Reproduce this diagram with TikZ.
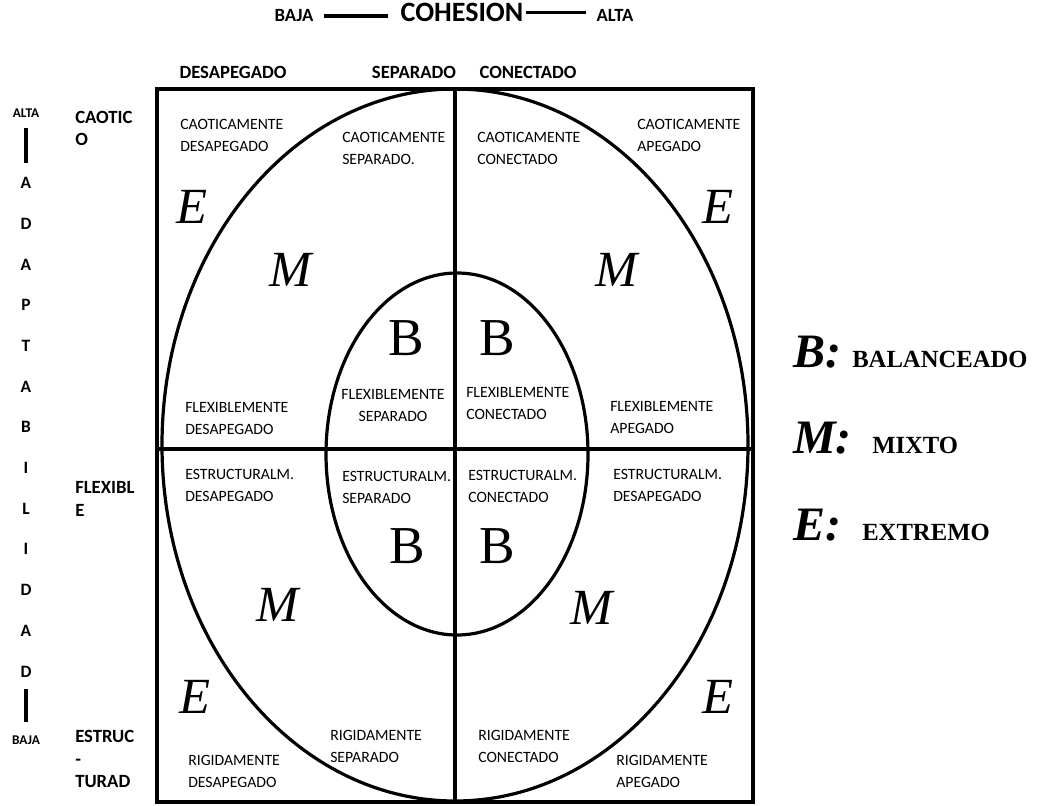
\documentclass[tikz,border=0pt]{standalone}
\usepackage{fontspec}
\setmainfont{Carlito}
\newfontfamily\romana{Liberation Serif}
\usetikzlibrary{positioning}

\begin{document}
\begin{tikzpicture}[x=0.75pt, y=-0.75pt,
    celda/.style={font=\fontsize{11.8}{16.5}\selectfont, align=left, inner sep=0pt, anchor=west},
    titulo/.style={font=\bfseries\fontsize{14}{17}\selectfont, inner sep=0pt},
    vert/.style={font=\bfseries\fontsize{13}{13}\selectfont, inner sep=0pt},
    letra/.style={font=\romana\itshape\fontsize{38}{38}\selectfont, inner sep=0pt},
    balance/.style={font=\romana\fontsize{40}{40}\selectfont, inner sep=0pt},
    clave/.style={font=\romana\bfseries\itshape\fontsize{36}{36}\selectfont, inner sep=0pt, anchor=base west},
    significado/.style={font=\romana\bfseries\fontsize{18.5}{20}\selectfont, inner sep=0pt, anchor=base west}]
    % 画布大小
    \useasboundingbox (0,0) rectangle (1053,806);

    % 标题 COHESION
    \node[font=\bfseries\fontsize{21}{21}\selectfont, inner sep=0pt, anchor=base] (cohesion) at (462,22) {COHESION};
    \node[titulo, anchor=base] (bajaC) at (294,22) {BAJA};
    \node[titulo, anchor=base] (altaC) at (615,22) {ALTA};
    \draw[line width=2.3pt, shorten <=7.5pt, shorten >=9pt] (bajaC.east) -- (bajaC.east -| cohesion.west);
    \draw[line width=2.3pt, shorten <=1.5pt, shorten >=7.5pt] (cohesion.east) -- (cohesion.east -| altaC.west);

    % 列标题
    \node[titulo] (desapegado) at (233,72) {DESAPEGADO};
    \node[titulo] (separado) at (414,72) {SEPARADO};
    \node[titulo] (conectado) at (528,72) {CONECTADO};

    % 行标题
    \node[titulo, align=left, anchor=west] (caotico) at (75,128.5) {CAOTIC\\O};
    \node[titulo, align=left, anchor=west] (flexible) at (75,499) {FLEXIBL\\E};
    \node[titulo, align=left, anchor=west] (estructurado) at (75,759) {ESTRUC\\-\\TURAD};

    % 竖排 ADAPTABILIDAD
    \node[font=\bfseries\fontsize{10}{10}\selectfont, inner sep=0pt] (alta) at (26,113) {ALTA};
    \node[font=\bfseries\fontsize{10}{10}\selectfont, inner sep=0pt] (baja) at (26,740) {BAJA};
    \foreach \l [count=\i] in {A,D,A,P,T,A,B,I,L,I,D,A,D}
        \node[vert] (v\i) at (26,{142.3+40.7*\i}) {\l};
    \draw[line width=3pt, shorten <=8pt, shorten >=10.5pt] (alta.south) -- (v1.north);
    \draw[line width=3pt, shorten <=9pt, shorten >=9.75pt] (v13.south) -- (baja.north);

    % 外框、椭圆和十字线
    \draw[line width=3.2pt] (157,89) rectangle (753,802);
    \draw[line width=2.4pt] (455,445) ellipse [x radius=293, y radius=356];
    \draw[line width=2.4pt] (457,454) ellipse [x radius=131, y radius=181];
    \draw[line width=2.4pt] (455,89) -- (455,802);
    \draw[line width=2.4pt] (157,449) -- (753,449);

    % 第一行
    \node[celda] (c1) at (180,135) {CAOTICAMENTE\\DESAPEGADO};
    \node[celda] (c2) at (342,148) {CAOTICAMENTE\\SEPARADO.};
    \node[celda] (c3) at (477,148) {CAOTICAMENTE\\CONECTADO};
    \node[celda] (c4) at (637,135) {CAOTICAMENTE\\APEGADO};

    % 第二行
    \node[celda] (f1) at (185,419) {FLEXIBLEMENTE\\DESAPEGADO};
    \node[celda, align=center, anchor=center] (f2) at (393,406) {FLEXIBLEMENTE\\SEPARADO};
    \node[celda] (f3) at (466,404) {FLEXIBLEMENTE\\CONECTADO};
    \node[celda] (f4) at (610,418) {FLEXIBLEMENTE\\APEGADO};

    % 第三行
    \node[celda] (e1) at (185,485) {ESTRUCTURALM.\\DESAPEGADO};
    \node[celda] (e2) at (342,487) {ESTRUCTURALM.\\SEPARADO};
    \node[celda] (e3) at (468,486) {ESTRUCTURALM.\\CONECTADO};
    \node[celda] (e4) at (613,485) {ESTRUCTURALM.\\DESAPEGADO};

    % 第四行
    \node[celda] (r1) at (188,771) {RIGIDAMENTE\\DESAPEGADO};
    \node[celda] (r2) at (330,746) {RIGIDAMENTE\\SEPARADO};
    \node[celda] (r3) at (478,746) {RIGIDAMENTE\\CONECTADO};
    \node[celda] (r4) at (616,771) {RIGIDAMENTE\\APEGADO};

    % 区域字母
    \node[letra] (ext1) at (192,207) {E};
    \node[letra] (ext2) at (718,207) {E};
    \node[letra] (ext3) at (195,697) {E};
    \node[letra] (ext4) at (718,697) {E};
    \node[letra] (mix1) at (291,270) {M};
    \node[letra] (mix2) at (617,270) {M};
    \node[letra] (mix3) at (278,605) {M};
    \node[letra] (mix4) at (592,608) {M};
    \node[balance] (bal1) at (406,338) {B};
    \node[balance] (bal2) at (497,338) {B};
    \node[balance] (bal3) at (407,546) {B};
    \node[balance] (bal4) at (497,546) {B};

    % 图例
    \node[clave] (clB) at (793,367) {B:};
    \node[significado] (txtB) at (852,367) {BALANCEADO};
    \node[clave] (clM) at (793,453) {M:};
    \node[significado] (txtM) at (872,453) {MIXTO};
    \node[clave] (clE) at (793,540) {E:};
    \node[significado] (txtE) at (862,540) {EXTREMO};
\end{tikzpicture}
\end{document}
